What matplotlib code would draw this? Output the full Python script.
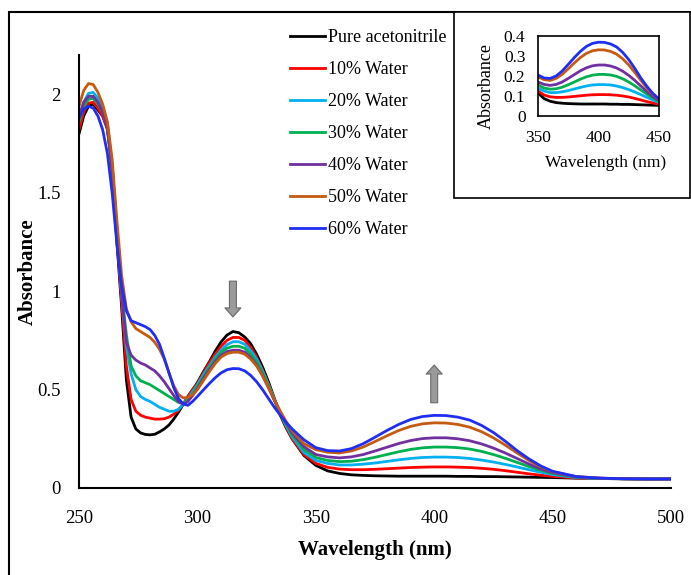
import numpy as np
import matplotlib
matplotlib.use("Agg")
import matplotlib.pyplot as plt
from matplotlib.patches import Rectangle, FancyArrowPatch

plt.rcParams['font.family'] = ['Liberation Serif', 'DejaVu Serif']

# wavelength grid (nm)
wl = [250, 252, 254, 256, 258, 260, 262, 264, 266, 268, 270, 272, 274, 276, 278,
      280, 282, 284, 286, 288, 290, 292, 294, 296, 298, 300,
      302.5, 305, 307.5, 310, 312.5, 315, 317.5, 320, 322.5, 325, 327.5, 330,
      332.5, 335, 337.5, 340, 345, 350,
      355, 360, 365, 370, 375, 380, 385, 390, 395, 400,
      405, 410, 415, 420, 425, 430, 435, 440, 445, 450,
      460, 470, 480, 490, 500]

pure = [1.80, 1.89, 1.94, 1.95, 1.92, 1.89, 1.83, 1.62, 1.25, 0.92, 0.55, 0.36, 0.30, 0.28, 0.272,
        0.27, 0.273, 0.285, 0.30, 0.32, 0.35, 0.385, 0.425, 0.465, 0.50, 0.535,
        0.59, 0.64, 0.695, 0.742, 0.777, 0.795, 0.789, 0.767, 0.733, 0.68, 0.615, 0.54,
        0.455, 0.37, 0.305, 0.25, 0.165, 0.115,
        0.087, 0.074, 0.067, 0.064, 0.062, 0.061, 0.06, 0.06, 0.06, 0.06,
        0.06, 0.059, 0.059, 0.058, 0.058, 0.057, 0.056, 0.055, 0.054, 0.053,
        0.05, 0.048, 0.047, 0.046, 0.046]
w10 = [1.82, 1.91, 1.955, 1.96, 1.93, 1.89, 1.82, 1.62, 1.27, 0.95, 0.62, 0.45, 0.39, 0.37, 0.36,
       0.355, 0.35, 0.35, 0.352, 0.36, 0.375, 0.395, 0.425, 0.465, 0.50, 0.53,
       0.585, 0.635, 0.68, 0.72, 0.75, 0.765, 0.765, 0.75, 0.715, 0.665, 0.60, 0.53,
       0.45, 0.375, 0.31, 0.25, 0.17, 0.125,
       0.105, 0.096, 0.093, 0.093, 0.095, 0.098, 0.101, 0.104, 0.106, 0.107,
       0.107, 0.106, 0.104, 0.10, 0.095, 0.088, 0.08, 0.072, 0.065, 0.059,
       0.051, 0.048, 0.047, 0.046, 0.046]
w20 = [1.87, 1.96, 2.005, 2.01, 1.98, 1.93, 1.85, 1.64, 1.30, 0.98, 0.72, 0.58, 0.50, 0.465, 0.45,
       0.44, 0.425, 0.41, 0.40, 0.39, 0.39, 0.40, 0.425, 0.455, 0.49, 0.525,
       0.575, 0.62, 0.665, 0.70, 0.728, 0.743, 0.743, 0.73, 0.698, 0.655, 0.595, 0.525,
       0.45, 0.38, 0.315, 0.26, 0.18, 0.14,
       0.125, 0.117, 0.117, 0.121, 0.127, 0.135, 0.143, 0.15, 0.155, 0.157,
       0.157, 0.155, 0.15, 0.142, 0.132, 0.12, 0.107, 0.093, 0.08, 0.068,
       0.053, 0.048, 0.047, 0.046, 0.046]
w30 = [1.86, 1.94, 1.975, 1.98, 1.95, 1.91, 1.83, 1.63, 1.30, 1.00, 0.78, 0.62, 0.57, 0.545, 0.535,
       0.525, 0.51, 0.495, 0.48, 0.465, 0.45, 0.435, 0.43, 0.45, 0.48, 0.515,
       0.565, 0.61, 0.655, 0.69, 0.71, 0.72, 0.72, 0.71, 0.68, 0.64, 0.585, 0.52,
       0.45, 0.385, 0.325, 0.27, 0.195, 0.155,
       0.14, 0.134, 0.136, 0.144, 0.156, 0.17, 0.184, 0.196, 0.204, 0.208,
       0.208, 0.205, 0.198, 0.186, 0.17, 0.151, 0.13, 0.109, 0.09, 0.074,
       0.055, 0.049, 0.047, 0.046, 0.046]
w40 = [1.89, 1.96, 1.99, 1.99, 1.96, 1.91, 1.83, 1.63, 1.31, 0.98, 0.74, 0.675, 0.65, 0.635, 0.625,
       0.61, 0.595, 0.57, 0.54, 0.505, 0.47, 0.44, 0.425, 0.44, 0.47, 0.505,
       0.555, 0.60, 0.642, 0.675, 0.693, 0.70, 0.70, 0.69, 0.663, 0.625, 0.572, 0.51,
       0.445, 0.385, 0.33, 0.28, 0.21, 0.17,
       0.158, 0.153, 0.158, 0.17, 0.188, 0.207, 0.226, 0.241, 0.251, 0.255,
       0.255, 0.25, 0.24, 0.224, 0.203, 0.178, 0.15, 0.122, 0.097, 0.078,
       0.056, 0.05, 0.047, 0.046, 0.046]
w50 = [1.94, 2.02, 2.055, 2.05, 2.01, 1.95, 1.86, 1.67, 1.36, 1.08, 0.91, 0.845, 0.81, 0.795, 0.78,
       0.765, 0.74, 0.705, 0.655, 0.585, 0.52, 0.475, 0.458, 0.46, 0.475, 0.50,
       0.545, 0.59, 0.632, 0.665, 0.683, 0.69, 0.69, 0.68, 0.655, 0.62, 0.57, 0.51,
       0.448, 0.39, 0.337, 0.29, 0.225, 0.195,
       0.182, 0.178, 0.188, 0.208, 0.236, 0.265, 0.292, 0.313, 0.326, 0.331,
       0.33, 0.323, 0.309, 0.286, 0.255, 0.218, 0.178, 0.14, 0.108, 0.083,
       0.058, 0.05, 0.047, 0.046, 0.046]
w60 = [1.88, 1.925, 1.94, 1.93, 1.89, 1.82, 1.70, 1.50, 1.24, 1.03, 0.90, 0.85, 0.84, 0.83, 0.82,
       0.805, 0.775, 0.73, 0.66, 0.585, 0.51, 0.455, 0.427, 0.42, 0.44, 0.465,
       0.498, 0.53, 0.56, 0.585, 0.601, 0.607, 0.606, 0.595, 0.572, 0.54, 0.50, 0.455,
       0.41, 0.37, 0.333, 0.30, 0.245, 0.205,
       0.19, 0.188, 0.20, 0.225, 0.258, 0.292, 0.323, 0.348, 0.363, 0.369,
       0.368, 0.36, 0.345, 0.318, 0.282, 0.238, 0.19, 0.148, 0.112, 0.085,
       0.058, 0.05, 0.047, 0.046, 0.046]

labels = ['Pure acetonitrile', '10% Water', '20% Water', '30% Water',
          '40% Water', '50% Water', '60% Water']
colors = ['#000000', '#FF0000', '#00B0F0', '#00B050', '#7030A0', '#C55A11', '#1F2EF5']
series = [pure, w10, w20, w30, w40, w50, w60]

fig = plt.figure(figsize=(6.91, 5.75), dpi=100)

# outer frame (cut off at right and bottom)
fig.patches.append(Rectangle((9 / 691, -0.2), 1.2, 0.2 + 1 - 12 / 575, transform=fig.transFigure,
                             fill=False, ec='black', lw=1.5, zorder=0))

ax = fig.add_axes([79 / 691, 1 - 488 / 575, 592 / 691, 433 / 575])
for y, c, lab in zip(series, colors, labels):
    ax.plot(wl, y, color=c, lw=2.0, label=lab)

ax.set_xlim(250, 500)
ax.set_ylim(0, 2.2)
ax.set_xticks([250, 300, 350, 400, 450, 500])
ax.set_yticks([0, 0.5, 1, 1.5, 2])
ax.set_yticklabels(['0', '0.5', '1', '1.5', '2'])
ax.tick_params(length=0, labelsize=13.5)
ax.tick_params(axis='x', pad=16)
ax.tick_params(axis='y', pad=13)
for s in ['top', 'right']:
    ax.spines[s].set_visible(False)
for s in ['left', 'bottom']:
    ax.spines[s].set_linewidth(1.5)
ax.set_xlabel('Wavelength (nm)', fontsize=15, fontweight='bold', labelpad=9)
ax.set_ylabel('Absorbance', fontsize=15, fontweight='bold', labelpad=0)

# gray arrows: down over first band, up over second band
wl_a = np.array(wl)
pk1 = np.argmax(np.where((wl_a > 300) & (wl_a < 340), pure, 0))
pk2 = np.argmax(np.where(wl_a > 380, w60, 0))
arrow_style = 'simple,head_length=0.65,head_width=1.15,tail_width=0.5'
ax.add_patch(FancyArrowPatch((wl[pk1], pure[pk1] + 0.27), (wl[pk1], pure[pk1] + 0.06),
                             arrowstyle=arrow_style, mutation_scale=10,
                             fc='#9a9a9a', ec='#6a6a6a', lw=0.8))
ax.add_patch(FancyArrowPatch((wl[pk2], w60[pk2] + 0.05), (wl[pk2], w60[pk2] + 0.27),
                             arrowstyle=arrow_style, mutation_scale=10,
                             fc='#9a9a9a', ec='#6a6a6a', lw=0.8))

leg = ax.legend(loc='upper left', bbox_to_anchor=(290 / 691, 1 - 29 / 575),
                bbox_transform=fig.transFigure, frameon=False, fontsize=13,
                handlelength=1.95, handletextpad=0.15, labelspacing=0.83,
                borderpad=0, borderaxespad=0)

# inset
fig.patches.append(Rectangle((454 / 691, 1 - 198 / 575), (690 - 454) / 691, (198 - 12) / 575,
                             transform=fig.transFigure, fill=True, fc='white',
                             ec='black', lw=1.2, zorder=2))
axi = fig.add_axes([538 / 691, 1 - 116 / 575, 121 / 691, 80 / 575])
axi.set_zorder(3)
for y, c in zip(series, colors):
    axi.plot(wl, y, color=c, lw=2.0)
axi.set_xlim(350, 450)
axi.set_ylim(0, 0.4)
axi.set_xticks([350, 400, 450])
axi.set_yticks([0, 0.1, 0.2, 0.3, 0.4])
axi.set_yticklabels(['0', '0.1', '0.2', '0.3', '0.4'])
axi.tick_params(length=0, labelsize=12.5)
axi.tick_params(axis='x', pad=10)
axi.tick_params(axis='y', pad=9)
for s in axi.spines.values():
    s.set_linewidth(1.2)
axi.set_xlabel('Wavelength (nm)', fontsize=12.5)
axi.set_ylabel('Absorbance', fontsize=13)
axi.xaxis.set_label_coords(0.56, -0.49)
axi.yaxis.set_label_coords(-0.36, 0.38)

fig.savefig('out.png', dpi=100)
